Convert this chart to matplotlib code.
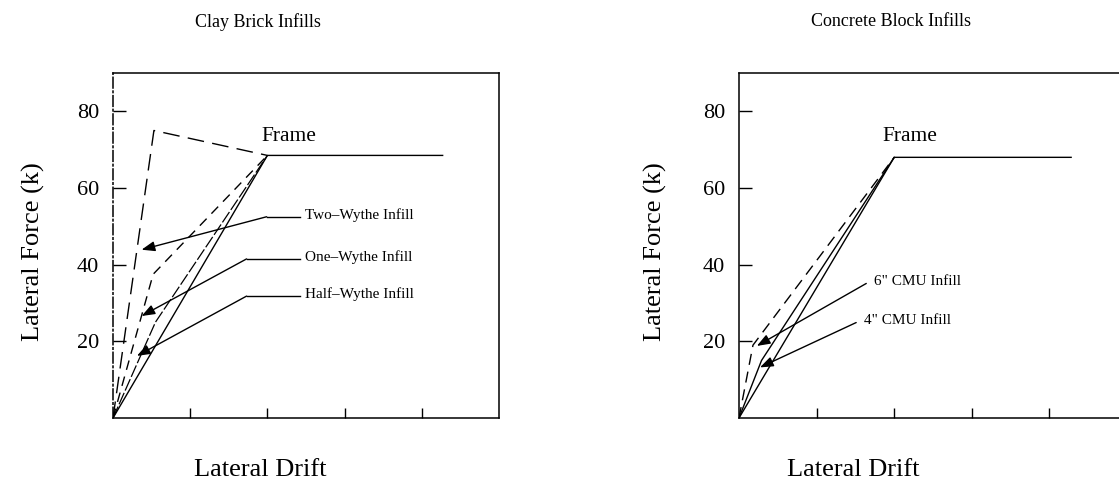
import numpy as np
import matplotlib.pyplot as plt

plt.rcParams['font.family'] = ['Liberation Serif', 'DejaVu Serif']

# --- Clay brick infills (left) ---
frame_x = [0, 2.0, 4.27]
frame_y = [0, 68.5, 68.5]
two_wythe_x = [0, 0.53, 2.0]
two_wythe_y = [0, 75, 68.5]
one_wythe_x = [0, 0.52, 2.0]
one_wythe_y = [0, 37.5, 68.5]
half_wythe_x = [0, 0.55, 2.0]
half_wythe_y = [0, 25, 68.5]

# --- Concrete block infills (right) ---
frame2_x = [0, 2.0, 4.28]
frame2_y = [0, 68, 68]
cmu6_x = [0, 0.18, 2.0]
cmu6_y = [0, 19, 68]
cmu4_x = [0, 0.29, 2.0]
cmu4_y = [0, 15, 68]

y_ticks = [20, 40, 60, 80]
x_ticks = [1, 2, 3, 4]

# labels: (text, arrow tip, knee, end of leader)
clay_labels = [
    ('Two\u2013Wythe Infill', (0.37, 43.9), (1.99, 52.5), (2.42, 52.5)),
    ('One\u2013Wythe Infill', (0.37, 26.6), (1.73, 41.5), (2.42, 41.5)),
    ('Half\u2013Wythe Infill', (0.31, 16.2), (1.73, 31.8), (2.42, 31.8)),
]
cmu_labels = [
    ('6" CMU Infill', (0.23, 18.8), (1.64, 35.1), (1.64, 35.1)),
    ('4" CMU Infill', (0.27, 13.2), (1.51, 24.9), (1.51, 24.9)),
]

fig = plt.figure(figsize=(11.19, 4.93), dpi=100)
ax1 = fig.add_axes([113 / 1119, 75 / 493, 386 / 1119, 345 / 493])
ax2 = fig.add_axes([739 / 1119, 75 / 493, 388 / 1119, 345 / 493])


def style_axes(ax):
    ax.set_xlim(0, 5)
    ax.set_ylim(0, 90)
    ax.set_xticks(x_ticks)
    ax.set_xticklabels([])
    ax.set_yticks(y_ticks)
    ax.tick_params(axis='y', direction='in', length=9, width=1.0, pad=10,
                   labelsize=16)
    ax.tick_params(axis='x', direction='in', length=7, width=1.0)
    for s in ax.spines.values():
        s.set_linewidth(1.1)


def draw_labels(ax, items, hw):
    for txt, tip, knee, end in items:
        ax.plot([end[0], knee[0]], [end[1], knee[1]], color='black', lw=1.0)
        ax.annotate('', xy=tip, xytext=knee,
                    arrowprops=dict(arrowstyle='-|>,head_length=0.8,head_width=0.3',
                                    color='black', lw=1.0, shrinkA=0, shrinkB=0))
        ax.text(end[0] + hw, end[1] + 0.5, txt, fontsize=11, ha='left', va='center')


# left panel
style_axes(ax1)
ax1.spines['left'].set_linestyle((0, (7, 2, 1, 2)))
ax1.plot(frame_x, frame_y, color='black', lw=1.0)
ax1.plot(two_wythe_x, two_wythe_y, color='black', lw=1.0, dashes=(12, 6))
ax1.plot(one_wythe_x, one_wythe_y, color='black', lw=1.0, dashes=(7, 5))
ax1.plot(half_wythe_x, half_wythe_y, color='black', lw=0.9, dashes=(10, 2))
ax1.text(1.92, 73.5, 'Frame', fontsize=15.5, ha='left', va='center')
draw_labels(ax1, clay_labels, 0.07)

# right panel
style_axes(ax2)
ax2.plot(frame2_x, frame2_y, color='black', lw=1.0)
ax2.plot(cmu6_x, cmu6_y, color='black', lw=1.0, dashes=(8, 5))
ax2.plot(cmu4_x, cmu4_y, color='black', lw=1.0)
ax2.text(1.85, 73.5, 'Frame', fontsize=15.5, ha='left', va='center')
draw_labels(ax2, cmu_labels, 0.1)

# titles and axis labels
fig.text(258 / 1119, 1 - 22 / 493, 'Clay Brick Infills', fontsize=13,
         ha='center', va='center')
fig.text(891 / 1119, 1 - 22 / 493, 'Concrete Block Infills', fontsize=13,
         ha='center', va='center')
fig.text(260 / 1119, 1 - 470 / 493, 'Lateral Drift', fontsize=19,
         ha='center', va='center')
fig.text(853 / 1119, 1 - 470 / 493, 'Lateral Drift', fontsize=19,
         ha='center', va='center')
fig.text(33 / 1119, 1 - 252 / 493, 'Lateral Force (k)', fontsize=19,
         rotation=90, ha='center', va='center')
fig.text(655 / 1119, 1 - 252 / 493, 'Lateral Force (k)', fontsize=19,
         rotation=90, ha='center', va='center')

fig.savefig('out.png', dpi=100)
